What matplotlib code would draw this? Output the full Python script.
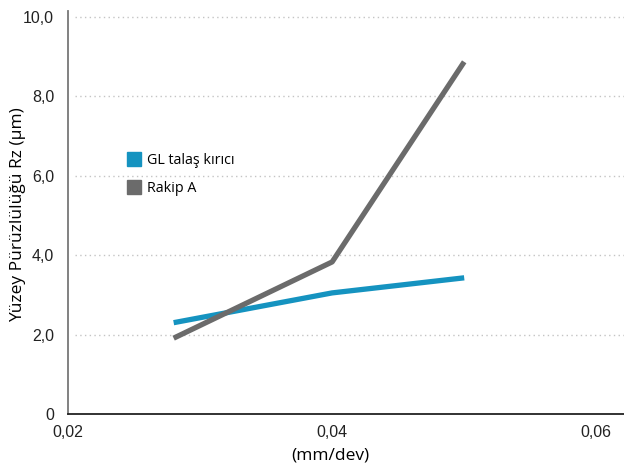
import matplotlib.pyplot as plt
from matplotlib.lines import Line2D

feed = [0.028, 0.04, 0.05]
gl_rz = [2.30, 3.05, 3.43]
rakip_rz = [1.91, 3.83, 8.87]
series_names = ["GL talaş kırıcı", "Rakip A"]
colors = ["#1593c0", "#6b6b6b"]
x_ticks = [0.02, 0.04, 0.06]
x_labels = ["0,02", "0,04", "0,06"]
y_ticks = [0, 2, 4, 6, 8, 10]
y_labels = ["0", "2,0", "4,0", "6,0", "8,0", "10,0"]

plt.rcParams['font.family'] = ['Liberation Sans', 'DejaVu Sans']
label_font = ['Open Sans', 'DejaVu Sans']

fig = plt.figure(figsize=(6.24, 4.66), dpi=100)
ax = fig.add_axes([68/624, 52/466, 556/624, 403/466])

ax.plot(feed, gl_rz, color=colors[0], lw=3.8, solid_capstyle='butt', zorder=3)
ax.plot(feed, rakip_rz, color=colors[1], lw=3.8, solid_capstyle='butt', zorder=3)

ax.set_xlim(0.02, 0.0621)
ax.set_ylim(0, 10.15)
ax.set_xticks(x_ticks)
ax.set_xticklabels(x_labels)
ax.set_yticks(y_ticks)
ax.set_yticklabels(y_labels)
ax.tick_params(length=0, labelsize=11.5, colors='#222222')
ax.tick_params(axis='y', pad=10)
ax.tick_params(axis='x', pad=8)

for y in y_ticks[1:]:
    ax.plot([0.0205, 0.0621], [y, y], color='#c4c4c4', lw=1.0, ls=(0, (1, 2.4)), zorder=1)

for s in ['top', 'right']:
    ax.spines[s].set_visible(False)
ax.spines['left'].set_color('#777777')
ax.spines['left'].set_linewidth(1.3)
ax.spines['bottom'].set_color('#222222')
ax.spines['bottom'].set_linewidth(1.3)

fig.text(18/624, 1 - 215/466, "Yüzey Pürüzlülüğü Rz (µm)", rotation=90, ha='center', va='center',
         fontsize=12.5, family=label_font)
fig.text(330/624, 1 - 455/466, "(mm/dev)", ha='center', va='center',
         fontsize=12.5, family=label_font)

handles = [Line2D([], [], ls='', marker='s', markersize=10, color=c) for c in colors]
ax.legend(handles, series_names, loc='upper left', bbox_to_anchor=(0.086, 0.68), frameon=False,
          handlelength=0.8, handletextpad=0.5, labelspacing=0.9,
          prop={'family': label_font, 'size': 10.3})

fig.savefig("out.png", dpi=100)
